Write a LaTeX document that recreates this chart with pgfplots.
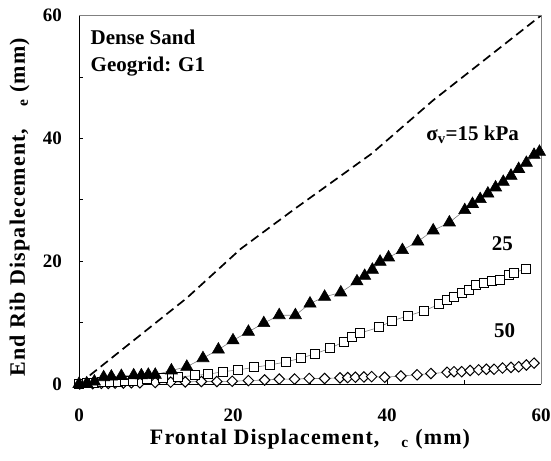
\documentclass[border=0pt]{standalone}
\usepackage{fontspec}
\setmainfont{Liberation Serif}
\newfontfamily\labelfont[LetterSpace=5]{Liberation Serif}
\usepackage{pgfplots}
\pgfplotsset{compat=1.18}

\begin{document}
\begin{tikzpicture}
\begin{axis}[
  name=ax,
  scale only axis,
  width=462bp, height=368.5bp,
  xmin=0, xmax=60, ymin=0, ymax=60,
  axis lines*=left,
  axis line style={line width=0.8bp},
  xtick={0,20,40,60}, ytick={0,20,40,60},
  minor tick num=1,
  tick align=inside,
  major tick length=4bp, minor tick length=4bp,
  tick style={black, line width=0.6bp},
  /pgf/number format/assume math mode=true,
  tick label style={font=\fontsize{19bp}{21bp}\selectfont\bfseries, inner sep=0pt},
  yticklabel style={anchor=east, xshift=-17bp},
  xticklabel style={anchor=north, yshift=-25bp},
  every axis x label/.style={at={(axis description cs:0.5,-0.113)}, anchor=north},
  every axis y label/.style={at={(axis description cs:-0.0996,0.48)}, anchor=south, rotate=90},
  label style={font=\labelfont\fontsize{22bp}{24bp}\selectfont\bfseries},
  xlabel={Frontal Displacement,\quad\textsubscript{c} (mm)},
  ylabel={End Rib Dispalecement,\quad\textsubscript{e} (mm)},
  clip=false,
]
% 1:1 reference line
\addplot[black, line width=1.7bp, dash pattern=on 9bp off 5bp] coordinates {
(1.4,1.4) (7,7) (14,14) (21,22) (28,28.5) (38,37.5) (46,46.2) (60,60)
};
% sigma_v = 50 kPa
\addplot[gray, line width=0.6bp, mark=square*, mark size=3.7bp,
  mark options={rotate=45, fill=white, draw=black, line width=1bp}] coordinates {
(0.1,0) (1.8,0.05) (2.9,0.1) (3.8,0.1) (4.7,0.15) (5.75,0.15) (6.8,0.2) (7.9,0.2)
(9.9,0.25) (11.9,0.3) (13.8,0.35) (15.9,0.4) (17.9,0.4) (19.9,0.45) (22.0,0.55)
(24.1,0.65) (26.0,0.8) (28.0,0.8) (29.9,0.9) (31.9,0.9) (33.9,1.0) (34.9,1.05)
(35.9,1.1) (37.0,1.15) (38.0,1.2) (39.7,1.1) (41.8,1.3) (43.9,1.5) (45.7,1.7)
(47.8,1.9) (48.7,2.0) (49.7,2.0) (50.8,2.2) (51.9,2.3) (52.9,2.4) (53.9,2.4)
(55.0,2.6) (56.1,2.7) (57.1,2.8) (58.1,3.1) (59.1,3.4)
};
% sigma_v = 25 kPa
\addplot[gray, line width=0.6bp, mark=square*, mark size=4.5bp,
  mark options={fill=white, draw=black, line width=1bp}] coordinates {
(0,0) (1,0.1) (2,0.15) (3,0.25) (4,0.3) (5,0.4) (6,0.45) (7,0.55) (8.8,0.8)
(10.9,0.9) (12.9,1.1) (15.0,1.4) (16.8,1.6) (18.7,2.0) (20.7,2.3) (22.7,2.7)
(24.8,3.1) (26.9,3.6) (28.8,4.2) (30.6,4.9) (32.6,5.8) (34.4,6.9) (35.4,7.6)
(36.5,8.3) (38.9,9.2) (40.7,10.3) (42.7,11.1) (44.8,11.9) (46.8,13.0) (47.8,13.7)
(48.7,14.1) (49.8,14.8) (50.6,15.3) (51.6,16.1) (52.6,16.5) (53.6,16.7)
(54.7,17.0) (55.8,17.7) (56.5,18.1) (58.1,18.8)
};
% sigma_v = 15 kPa
\addplot[gray, line width=0.6bp, mark=triangle*, mark size=7bp,
  mark options={fill=black, draw=black}] coordinates {
(0,0) (1,0.1) (2,0.4) (3.2,1.1) (4.2,1.2) (5.5,1.3) (7.1,1.4) (8.1,1.4) (9.0,1.5)
(9.9,1.5) (12.0,2.2) (14.0,2.8) (16.1,4.2) (18.1,5.6) (20.0,7.1) (22.0,8.5)
(24.0,9.9) (26.0,11.2) (28.1,11.2) (30.0,13.1) (31.9,14.2) (34.0,14.9) (36.1,16.7)
(37.1,17.6) (38.1,18.6) (39.1,19.9) (40.2,20.6) (42.0,21.8) (44.0,23.2)
(46.0,25.0) (48.1,26.3) (50.1,28.3) (51.1,29.3) (52.1,30.1) (53.1,31.0)
(54.1,32.0) (55.1,32.9) (56.1,33.9) (57.1,35.0) (58.1,36.0) (59.1,37.3) (59.8,37.8)
};
% top and right frame
\draw[gray, line width=0.8bp] (rel axis cs:0,1) -- (rel axis cs:1,1) -- (rel axis cs:1,0);
% annotations
\begin{scope}[every node/.style={font=\fontsize{21bp}{23bp}\selectfont\bfseries, inner sep=0pt}]
\node[anchor=base west] at (axis cs:1.5,55.2) {Dense Sand};
\node[anchor=base west] at (axis cs:1.5,50.8) {Geogrid: G1};
\node[anchor=base west] at (axis cs:45.1,39.6) {σ\textsubscript{v}=15 kPa};
\node[anchor=base west] at (axis cs:53.6,21.7) {25};
\node[anchor=base west] at (axis cs:53.9,7.6) {50};
\end{scope}
\end{axis}
\pgfresetboundingbox
\path ([xshift=-79bp,yshift=-77bp]ax.south west) rectangle ([xshift=10bp,yshift=15.5bp]ax.north east);
\end{tikzpicture}
\end{document}
